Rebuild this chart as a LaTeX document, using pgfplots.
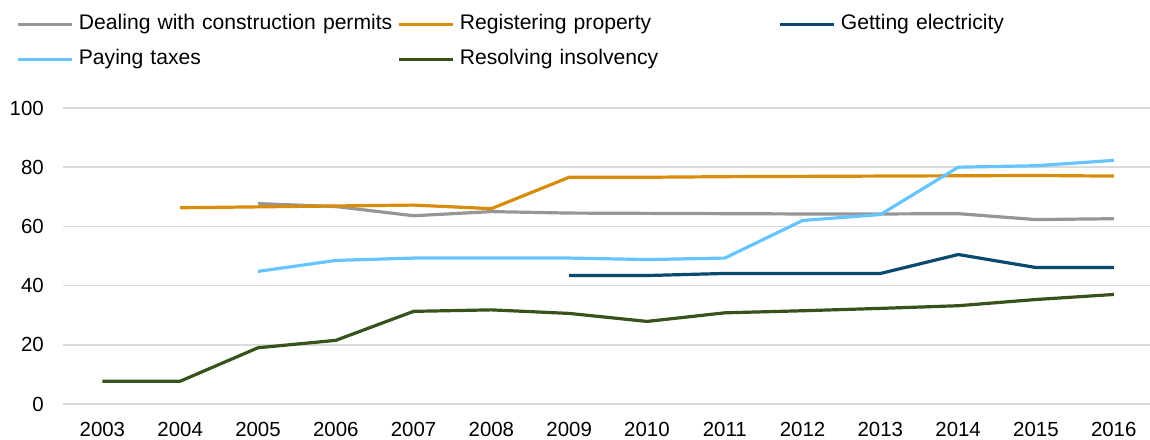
\documentclass[border=0pt]{standalone}
\usepackage{fontspec}
\setmainfont{Liberation Sans}
\usepackage{pgfplots}
\pgfplotsset{compat=1.18}
\definecolor{cgray}{RGB}{150,150,150}
\definecolor{corange}{RGB}{217,140,12}
\definecolor{cdblue}{RGB}{10,74,110}
\definecolor{clblue}{RGB}{102,197,255}
\definecolor{cgreen}{RGB}{55,82,26}
\definecolor{cgrid}{RGB}{217,217,217}
\begin{document}
\begin{tikzpicture}
\useasboundingbox (-63.5bp,-36bp) rectangle ++(1150bp,440bp);
\begin{axis}[
  at={(0,0)}, anchor=south west,
  scale only axis,
  width=1086.5bp, height=296bp,
  xmin=2002.5, xmax=2016.465,
  ymin=0, ymax=100,
  xtick={2003,...,2016},
  ytick={0,20,...,100},
  xticklabel={\pgfmathprintnumber[fixed,1000 sep={}]{\tick}},
  /pgf/number format/assume math mode=true,
  /pgf/number format/1000 sep={},
  major tick length=0pt,
  axis line style={draw=none},
  ymajorgrids,
  grid style={cgrid, line width=1.5bp},
  font=\fontsize{20.5}{24}\selectfont,
  xticklabel style={inner sep=0pt, anchor=north, yshift=-18bp},
  yticklabel style={inner sep=0pt, anchor=east, xshift=-19.5bp},
  clip=false,
  legend columns=3,
  legend cell align=left,
  legend image code/.code={\draw[#1, line width=3.2bp] (0bp,0bp) -- (54bp,0bp);},
  legend style={at={(0,1)}, anchor=north west, xshift=-47bp, yshift=93.5bp,
    draw=none, fill=none, inner sep=0pt, row sep=15bp,
    nodes={inner xsep=5bp, inner ysep=0pt, text width=313.8bp, text height=15bp, text depth=5bp, font=\fontsize{21.2}{24}\selectfont}},
  every axis plot/.append style={line width=3.2bp, line join=round},
]
\addplot[cgray] coordinates {(2005,67.7) (2006,66.7) (2007,63.6) (2008,65.0) (2009,64.5) (2010,64.4) (2011,64.3) (2012,64.2) (2013,64.2) (2014,64.3) (2015,62.3) (2016,62.6)};
\addlegendentry{Dealing with construction permits}
\addplot[corange] coordinates {(2004,66.3) (2005,66.6) (2006,66.9) (2007,67.2) (2008,66.0) (2009,76.6) (2010,76.6) (2011,76.8) (2012,76.9) (2013,77.0) (2014,77.1) (2015,77.2) (2016,77.0)};
\addlegendentry{Registering property}
\addplot[cdblue] coordinates {(2009,43.4) (2010,43.4) (2011,44.1) (2012,44.1) (2013,44.1) (2014,50.5) (2015,46.1) (2016,46.1)};
\addlegendentry{Getting electricity}
\addplot[clblue] coordinates {(2005,44.8) (2006,48.5) (2007,49.3) (2008,49.3) (2009,49.3) (2010,48.8) (2011,49.3) (2012,62.0) (2013,64.0) (2014,80.0) (2015,80.5) (2016,82.3)};
\addlegendentry{Paying taxes}
\addplot[cgreen] coordinates {(2003,7.7) (2004,7.7) (2005,19.0) (2006,21.5) (2007,31.3) (2008,31.8) (2009,30.6) (2010,27.9) (2011,30.8) (2012,31.5) (2013,32.3) (2014,33.2) (2015,35.3) (2016,37.0)};
\addlegendentry{Resolving insolvency}
\end{axis}
\end{tikzpicture}
\end{document}
